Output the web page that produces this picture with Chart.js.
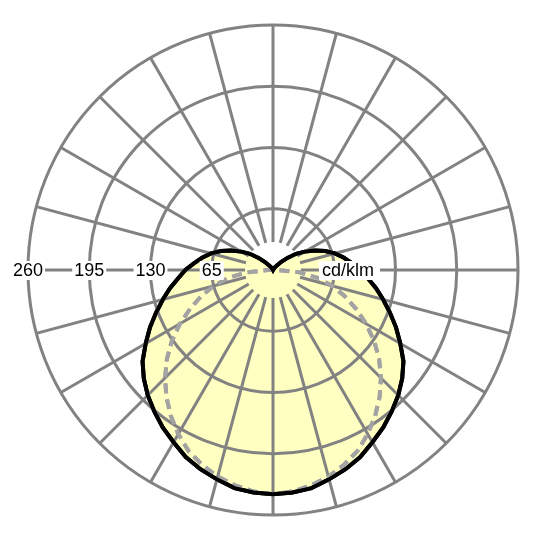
<!DOCTYPE html>
<html>
<head>
<meta charset="utf-8">
<script src="https://cdn.jsdelivr.net/npm/chart.js@4/dist/chart.umd.min.js"></script>
<style>
  html, body { margin: 0; padding: 0; background: #fff; }
  #wrap { width: 540px; height: 540px; }
</style>
</head>
<body>
<div id="wrap"><canvas id="polar" width="540" height="540"></canvas></div>
<script>
// Luminous intensity distribution, cd/klm, 0 = straight down
const halfAngles = [0, 5, 10, 15, 20, 25, 30, 35, 40, 45, 50, 55, 60, 65, 70, 75, 80, 85, 90,
    95, 100, 105, 110, 115, 120, 125, 130, 135, 140, 145, 150, 155, 160, 165, 170, 175, 180];
// C0-C180 plane (solid)
const c0Values = [238, 237, 235, 230, 225, 219, 211, 204, 196, 188, 179, 169, 156, 144, 132, 121, 111, 101, 93,
    84, 76, 68, 59, 49, 39, 30, 20, 12, 6, 3, 1, 0, 0, 0, 0, 0, 0];
// C90-C270 plane (dashed)
const c90Values = [238, 236, 232, 227, 220, 212, 201, 189, 176, 162, 147, 131, 114, 97, 81, 65, 48, 28, 5,
    0, 0, 0, 0, 0, 0, 0, 0, 0, 0, 0, 0, 0, 0, 0, 0, 0, 0];
const ringValues = [65, 130, 195, 260];
const ringLabels = ['65', '130', '195', '260'];
const unitLabel = 'cd/klm';

// full circle: one side 0..180, the other side mirrored back down to 5
function fullCircle(values) {
    return values.concat(values.slice(1, values.length - 1).reverse());
}
const labels = fullCircle(halfAngles).map((a, i) => String(i * 5));

const GRID = '#828282';
const FONT = '18px "Liberation Sans", Arial, sans-serif';

const overlay = {
    id: 'overlay',
    afterDraw(chart) {
        // curves go over the grid, the fill stays under it
        [1, 0].forEach(i => chart.getDatasetMeta(i).controller.draw());

        const ctx = chart.ctx;
        const r = chart.scales.r;
        ctx.save();
        ctx.font = FONT;
        ctx.textBaseline = 'middle';

        ringValues.forEach((v, i) => {
            const x = r.xCenter - r.getDistanceFromCenterForValue(v);
            const w = ctx.measureText(ringLabels[i]).width;
            ctx.fillStyle = '#fff';
            ctx.fillRect(x - w / 2 - 2, r.yCenter - 9, w + 4, 19);
            ctx.fillStyle = '#000';
            ctx.textAlign = 'center';
            ctx.fillText(ringLabels[i], x, r.yCenter + 1);
        });

        const ux = r.xCenter + r.getDistanceFromCenterForValue(52);
        const uw = ctx.measureText(unitLabel).width;
        ctx.fillStyle = '#fff';
        ctx.fillRect(ux - 3, r.yCenter - 9, uw + 9, 19);
        ctx.fillStyle = '#000';
        ctx.textAlign = 'left';
        ctx.fillText(unitLabel, ux, r.yCenter + 1);
        ctx.restore();
    }
};

new Chart(document.getElementById('polar'), {
    type: 'radar',
    data: {
        labels: labels,
        datasets: [{
            data: fullCircle(c0Values),
            borderColor: '#000',
            borderWidth: 4,
            fill: false
        }, {
            data: fullCircle(c90Values),
            borderColor: '#a3a3a3',
            borderWidth: 4,
            borderDash: [10, 6],
            fill: false
        }, {
            data: fullCircle(c0Values),
            borderWidth: 0,
            borderColor: 'transparent',
            backgroundColor: '#ffffc2',
            fill: 'origin'
        }]
    },
    options: {
        responsive: false,
        animation: false,
        devicePixelRatio: 1,
        layout: { padding: { left: 28, right: 22, top: 25, bottom: 25 } },
        elements: {
            point: { radius: 0, hoverRadius: 0 },
            line: { tension: 0 }
        },
        plugins: {
            legend: { display: false },
            tooltip: { enabled: false }
        },
        scales: {
            r: {
                startAngle: 180,
                min: 0,
                max: 260,
                z: 1,
                ticks: { display: false, stepSize: 65 },
                pointLabels: { display: false },
                grid: { circular: true, color: GRID, lineWidth: 3, z: 1 },
                angleLines: {
                    color: ctx => ctx.index % 3 === 0 ? GRID : 'transparent',
                    lineWidth: 3,
                    borderDash: [1000, 28],
                    borderDashOffset: 1000
                }
            }
        }
    },
    plugins: [overlay]
});
</script>
</body>
</html>
